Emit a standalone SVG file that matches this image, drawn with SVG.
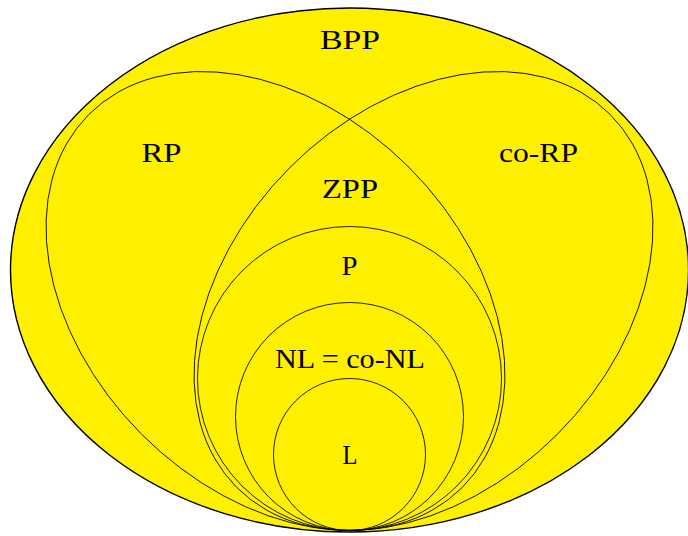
<svg xmlns="http://www.w3.org/2000/svg" width="688" height="536" viewBox="0 0 688 536">
<style>
.set{fill:none;stroke:#000;stroke-width:0.85}
.outer{fill:#fff000;stroke:#000;stroke-width:1.4}
.lbl{font-family:"Liberation Serif","DejaVu Serif",serif;font-size:28px;fill:#000;text-anchor:middle}
</style>
<rect width="688" height="536" fill="#fff"/>
<g id="BPP">
<ellipse class="outer" cx="349.5" cy="270" rx="339" ry="262"/>
<text class="lbl" x="350" y="49" textLength="60" lengthAdjust="spacingAndGlyphs">BPP</text>
</g>
<g id="RP">
<ellipse class="set" cx="0" cy="0" rx="263.9" ry="188.9" transform="translate(275.5 301) rotate(45)"/>
<text class="lbl" x="161.5" y="161.5" textLength="40" lengthAdjust="spacingAndGlyphs">RP</text>
</g>
<g id="coRP">
<ellipse class="set" cx="0" cy="0" rx="263.9" ry="188.9" transform="translate(423.5 301) rotate(-45)"/>
<text class="lbl" x="538.5" y="161.5" textLength="79" lengthAdjust="spacingAndGlyphs">co-RP</text>
</g>
<g id="ZPP">
<text class="lbl" x="350" y="198" textLength="56" lengthAdjust="spacingAndGlyphs">ZPP</text>
</g>
<g id="P">
<circle class="set" cx="349.5" cy="378.5" r="152"/>
<text class="lbl" x="349.5" y="275" textLength="16" lengthAdjust="spacingAndGlyphs">P</text>
</g>
<g id="NL">
<circle class="set" cx="349.5" cy="416.5" r="114"/>
<text class="lbl" x="350" y="368" textLength="150" lengthAdjust="spacingAndGlyphs">NL = co-NL</text>
</g>
<g id="L">
<circle class="set" cx="349.5" cy="454.5" r="76"/>
<text class="lbl" x="350" y="464" textLength="15" lengthAdjust="spacingAndGlyphs">L</text>
</g>
<g id="connectors"/>
</svg>
